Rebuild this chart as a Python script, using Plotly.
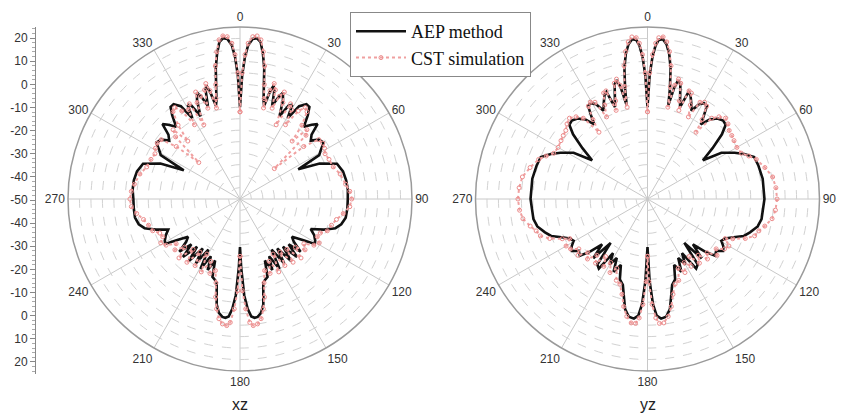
import plotly.graph_objects as go

# ---------------- data (dB) ----------------
# angles for the right half (0..180 deg); the left half uses 360 - angle
th_xz_aep = [0, 1, 2, 3, 4.5, 6, 7.5, 9, 10.5, 12, 13.5, 14.5, 15.5, 16.5, 17.5, 19, 20.5, 22, 23.5, 25.5,
             27.5, 29, 30.5, 32.5, 35, 37, 39, 41.5, 44, 46, 48, 50.5, 53, 56, 59, 61, 63, 66, 70, 75,
             80, 85, 90, 95, 100, 104, 107, 110, 113, 116, 119, 121, 123, 126, 128.5, 131, 133, 135.5, 138, 140.5,
             143, 145.5, 148, 150.5, 153, 155.5, 158, 160.5, 163, 164.5, 166, 167.5, 169.5, 171.5, 173, 174.5, 176, 177.5, 179, 180]
xz_aep_right = [-10, 4, 12, 17, 20, 20.5, 19, 14, 8, 0, -6, -8, -2, 1.5, 0, -7, -3, 0, -3, -10,
                -4, -3, -9, -2, 0.5, 0.3, -3, -8, -5, -3, -8, -10, -7, -6, -9, -10.5, -21.5, -12, -5, -3.5,
                -3, -2.8, -3, -3, -3.2, -4.5, -6.5, -11, -16.5, -14, -12.5, -12, -17, -22, -20, -15, -21, -14.5, -22, -15,
                -23, -16, -24, -15, -22, -16, -21, -14, -13, -12, -8, -3, 0.5, 2, 2.2, 1.5, -2, -8, -20, -29]
xz_aep_left = [-10, 4, 12, 17, 20, 20.5, 19, 14, 8, 0, -6, -8, -2, 1.5, 0, -7, -3, 0, -3, -10,
               -4, -3, -9, -2, 0.5, 0.3, -3, -8, -5, -3, -8, -10, -7, -6, -9, -10.5, -22.5, -12, -5, -3.5,
               -3, -3, -3.5, -3.5, -3.5, -4.5, -6.5, -11, -16, -14, -12.5, -12, -17, -22, -20, -15, -21, -14.5, -22, -15,
               -23, -16, -24, -15, -22, -16, -21, -14, -13, -12, -8, -3, 0.5, 2, 2.2, 1.5, -2, -8, -20, -29]

th_xz_cst = [0, 1, 2, 3, 4.5, 6, 7.5, 9, 10.5, 12, 13.5, 14.5, 15.5, 16.5, 18, 19.5, 21, 22.5, 24, 26,
             28, 30, 31.5, 33.5, 35.5, 37.5, 40, 42, 44, 46, 48.5, 50.5, 53, 56, 59, 62, 66, 71, 76, 82,
             86, 90, 94, 98, 102, 106, 110, 113, 116, 119, 122, 125, 128, 131, 134, 137, 140, 143, 146, 149,
             152, 155, 158, 161, 164, 166, 168, 170, 172, 174, 175.5, 177, 178.5, 180]
xz_cst_right = [-12, 5, 13, 18, 21, 21.5, 20, 15, 9, 1, -5, -9, -1, 2.5, 0, -8, -2, 0.5, -4, -14,
                -3, -5, -12, -4, -1, -2, -8, -16, -8, -10, -30, -14, -7, -6.5, -7, -8, -7.5, -7, -5, -3.5,
                -2, -1.3, -2, -4.5, -7, -8.5, -9.5, -12, -12.5, -10.5, -12, -16, -14, -18, -13, -20, -14, -21, -15, -22,
                -14, -20, -15, -17, -12, -6, -1, 3, 5, 5.5, 4, -2, -10, -25]
xz_cst_left = [-12, 5, 13, 18, 21, 21.5, 20, 15, 9, 1, -5, -9, -1, 2.5, 0, -8, -2, 0.5, -4, -14,
               -3, -5, -12, -4, -1, -2, -8, -16, -8, -11, -26, -14, -7, -6.5, -7, -8, -7.5, -7, -5, -3.5,
               -2.5, -2, -2.5, -4.5, -7, -8.5, -9.5, -12, -12.5, -10.5, -12, -16, -14, -18, -13, -20, -14, -21, -15, -22,
               -14, -20, -15, -17, -12, -6, -1, 3, 5, 5.5, 4, -2, -10, -25]

th_yz_aep = [0, 1, 2, 3, 4, 5.5, 7, 8.5, 10, 11.5, 12.5, 13.5, 14.5, 16, 18, 19.5, 21, 22.5, 24.5, 26.5,
             28.5, 30.5, 32.5, 34, 35.5, 38, 41, 44, 46.5, 49, 52, 55, 58, 62, 65, 68.5, 73, 80, 90, 100,
             104, 108, 111, 114, 117, 119.5, 122, 124.5, 127, 130, 132.5, 135, 137.5, 140, 142.5, 145, 147.5, 150, 152.5, 155,
             158, 161, 164, 166.5, 168.5, 171, 173.5, 175.5, 177, 178.5, 180]
yz_aep_right = [-10, 4, 12, 17, 19.5, 20, 18, 14, 8, -1, -8, 0, 3.5, 2, -4, -7.5, 0, -1, -4, -7,
                -3, -1.5, -1.7, -6, -10, -6, -3.5, -2.5, -3, -7, -14, -20.5, -12, -7, -3.5, 0, 0.5, 1, 1, 0.5,
                -0.5, -3, -5, -9, -12, -13, -11, -10, -12.5, -11.5, -16, -22, -15, -25, -14, -13, -22, -17, -21, -15,
                -19, -13, -11, -6, -1, 2, 2.5, 1, -4, -14, -29]
yz_aep_left = [-10, 4, 12, 17, 19.5, 20, 18, 14, 8, -1, -8, 0, 3.5, 2, -4, -7.5, 0, -1, -4, -7,
               -3, -1.5, -1.7, -6, -10, -6, -3.5, -2.5, -3, -7, -14, -20.5, -12, -7, -3.5, 0, 0.5, 1, 1, 0.5,
               -0.5, -3, -5, -9, -12, -13, -11, -10, -12.5, -11.5, -16, -22, -15, -25, -14, -13, -22, -17, -21, -15,
               -19, -13, -11, -6, -1, 2, 2.5, 1, -4, -14, -29]

th_yz_cst = [0, 1, 2, 3, 4, 5.5, 7, 8.5, 10, 11.5, 12.5, 13.5, 14.5, 16, 18, 19.5, 21, 22.5, 24.5, 26.5,
             28.5, 30.5, 32.5, 34.5, 36, 38.5, 41, 44, 47, 50, 53, 56, 60, 64, 67, 70, 75, 80, 85, 90,
             95, 99, 103, 106, 109, 112, 115, 117, 120, 123, 126, 129, 132, 135, 138, 141, 144, 147, 150, 153,
             156, 159, 162, 165, 167.5, 170, 172.5, 174.5, 176, 177.5, 179, 180]
yz_cst_right = [-12, 5, 13, 18, 20.5, 21, 19, 15, 9, 0, -9, 1, 4, 2.5, -5, -9, 0.5, 0, -5, -10,
                -2, -1, -2, -8, -14, -5, -2.5, -1, -2, -3.5, -4, -4.5, -5, -4.5, -2, 0.5, 3, 5.4, 6.2, 6.5,
                6, 5, 2.5, 0.5, -0.6, -4, -9, -12, -9, -10, -13, -11, -15, -13, -17, -14, -19, -15, -18, -14,
                -17, -12, -11, -7, -2, 2, 4.5, 4.5, 2, -4, -14, -25]
yz_cst_left = [-12, 5, 13, 18, 20.5, 21, 19, 15, 9, 0, -9, 1, 4, 2.5, -5, -9, 0.5, 0, -5, -10,
               -2, -1, -2, -8, -14, -5, -2.5, -1, -2, -3.5, -4, -4.5, -5, -4.5, -2, 0.5, 3, 5.4, 6.2, 6.5,
               6, 5, 2.5, 0.5, -0.6, -4, -9, -12, -9, -10, -13, -11, -15, -13, -17, -14, -19, -15, -18, -14,
               -17, -12, -11, -7, -2, 2, 4.5, 4.5, 2, -4, -14, -25]

angle_ticks = [0, 30, 60, 90, 120, 150, 180, 210, 240, 270, 300, 330]
scale_labels = [20, 10, 0, -10, -20, -30, -40, -50]
r_min, r_max = -50, 25
panel_titles = ["xz", "yz"]


def full(th, right, left):
    t = list(th) + [360 - a for a in reversed(th)]
    r = list(right) + list(reversed(left))
    return t, r


BLACK = "#111111"
PINK = "#f0a0a0"

fig = go.Figure()
series = [
    ("polar", th_xz_aep, xz_aep_right, xz_aep_left, th_xz_cst, xz_cst_right, xz_cst_left, True),
    ("polar2", th_yz_aep, yz_aep_right, yz_aep_left, th_yz_cst, yz_cst_right, yz_cst_left, False),
]
for sub, ta, ra, la, tc, rc, lc, leg in series:
    t, r = full(ta, ra, la)
    fig.add_trace(go.Scatterpolar(theta=t, r=r, subplot=sub, mode="lines", name="AEP method",
                                  line=dict(color=BLACK, width=2.6), showlegend=leg, legendrank=1))
    t, r = full(tc, rc, lc)
    fig.add_trace(go.Scatterpolar(theta=t, r=r, subplot=sub, mode="lines+markers", name="CST simulation",
                                  line=dict(color=PINK, width=2, dash="dot"),
                                  marker=dict(symbol="circle-open", size=4, color="#ec8c8c", line=dict(width=1)),
                                  showlegend=leg, legendrank=2))

# dummy trace to activate the vertical dB scale axis
fig.add_trace(go.Scatter(x=[], y=[], showlegend=False, hoverinfo="skip"))

W, H = 842, 414


def polar_layout(cx, cy, R):
    return dict(
        domain=dict(x=[(cx - R) / W, (cx + R) / W], y=[(H - cy - R) / H, (H - cy + R) / H]),
        bgcolor="white",
        radialaxis=dict(range=[r_min, r_max], dtick=5, tick0=r_min, showticklabels=False, ticks="",
                        showline=False, gridcolor="#d2d2d2", griddash="dash", gridwidth=1),
        angularaxis=dict(direction="clockwise", rotation=90, tickmode="array", tickvals=angle_ticks,
                         ticktext=[str(a) for a in angle_ticks], ticks="", showline=True,
                         linecolor="#9a9a9a", linewidth=1.5, gridcolor="#c8c8c8", gridwidth=1,
                         tickfont=dict(family="Arial, Liberation Sans", size=12, color="#333333")),
    )


# vertical dB scale on the far left: center (-50) in the middle, +20 at both ends
pos_vals = []
pos_text = []
for v in scale_labels:
    pos_vals.append(v - r_min)
    pos_text.append(str(v))
for v in reversed(scale_labels[:-1]):
    pos_vals.append(-(v - r_min))
    pos_text.append(str(v))

span = r_max - r_min
fig.update_layout(
    width=W, height=H, margin=dict(l=0, r=0, t=0, b=0),
    paper_bgcolor="white", plot_bgcolor="white",
    polar=polar_layout(240, 199, 172),
    polar2=polar_layout(647.5, 199, 172),
    xaxis=dict(domain=[0, 0.03], visible=False, range=[0, 1]),
    yaxis=dict(domain=[(H - 200 - 173.5) / H, (H - 200 + 173.5) / H], range=[-span, span],
               anchor="free", position=35 / W, side="left", showline=True, linecolor="#888888",
               linewidth=1, ticks="outside", ticklen=5, tickcolor="#888888", tickmode="array",
               tickvals=pos_vals, ticktext=pos_text, showgrid=False, zeroline=False,
               tickfont=dict(family="Arial, Liberation Sans", size=12, color="#333333"),
               minor=dict(dtick=2, tick0=0, ticks="outside", ticklen=3, tickcolor="#aaaaaa")),
    legend=dict(x=350 / W, y=1 - 12 / H, xanchor="left", yanchor="top", bgcolor="white",
                bordercolor="#888888", borderwidth=1, tracegroupgap=0, itemwidth=50,
                font=dict(family="Times New Roman, Liberation Serif", size=18, color="#111111")),
    showlegend=True,
    annotations=[
        dict(text=panel_titles[0], x=240 / W, y=0, xref="paper", yref="paper", showarrow=False,
             xanchor="center", yanchor="bottom", borderpad=0,
             font=dict(family="Arial, Liberation Sans", size=16, color="#222222")),
        dict(text=panel_titles[1], x=647.5 / W, y=0, xref="paper", yref="paper", showarrow=False,
             xanchor="center", yanchor="bottom", borderpad=0,
             font=dict(family="Arial, Liberation Sans", size=16, color="#222222")),
    ],
)

fig.write_html("out.html")
